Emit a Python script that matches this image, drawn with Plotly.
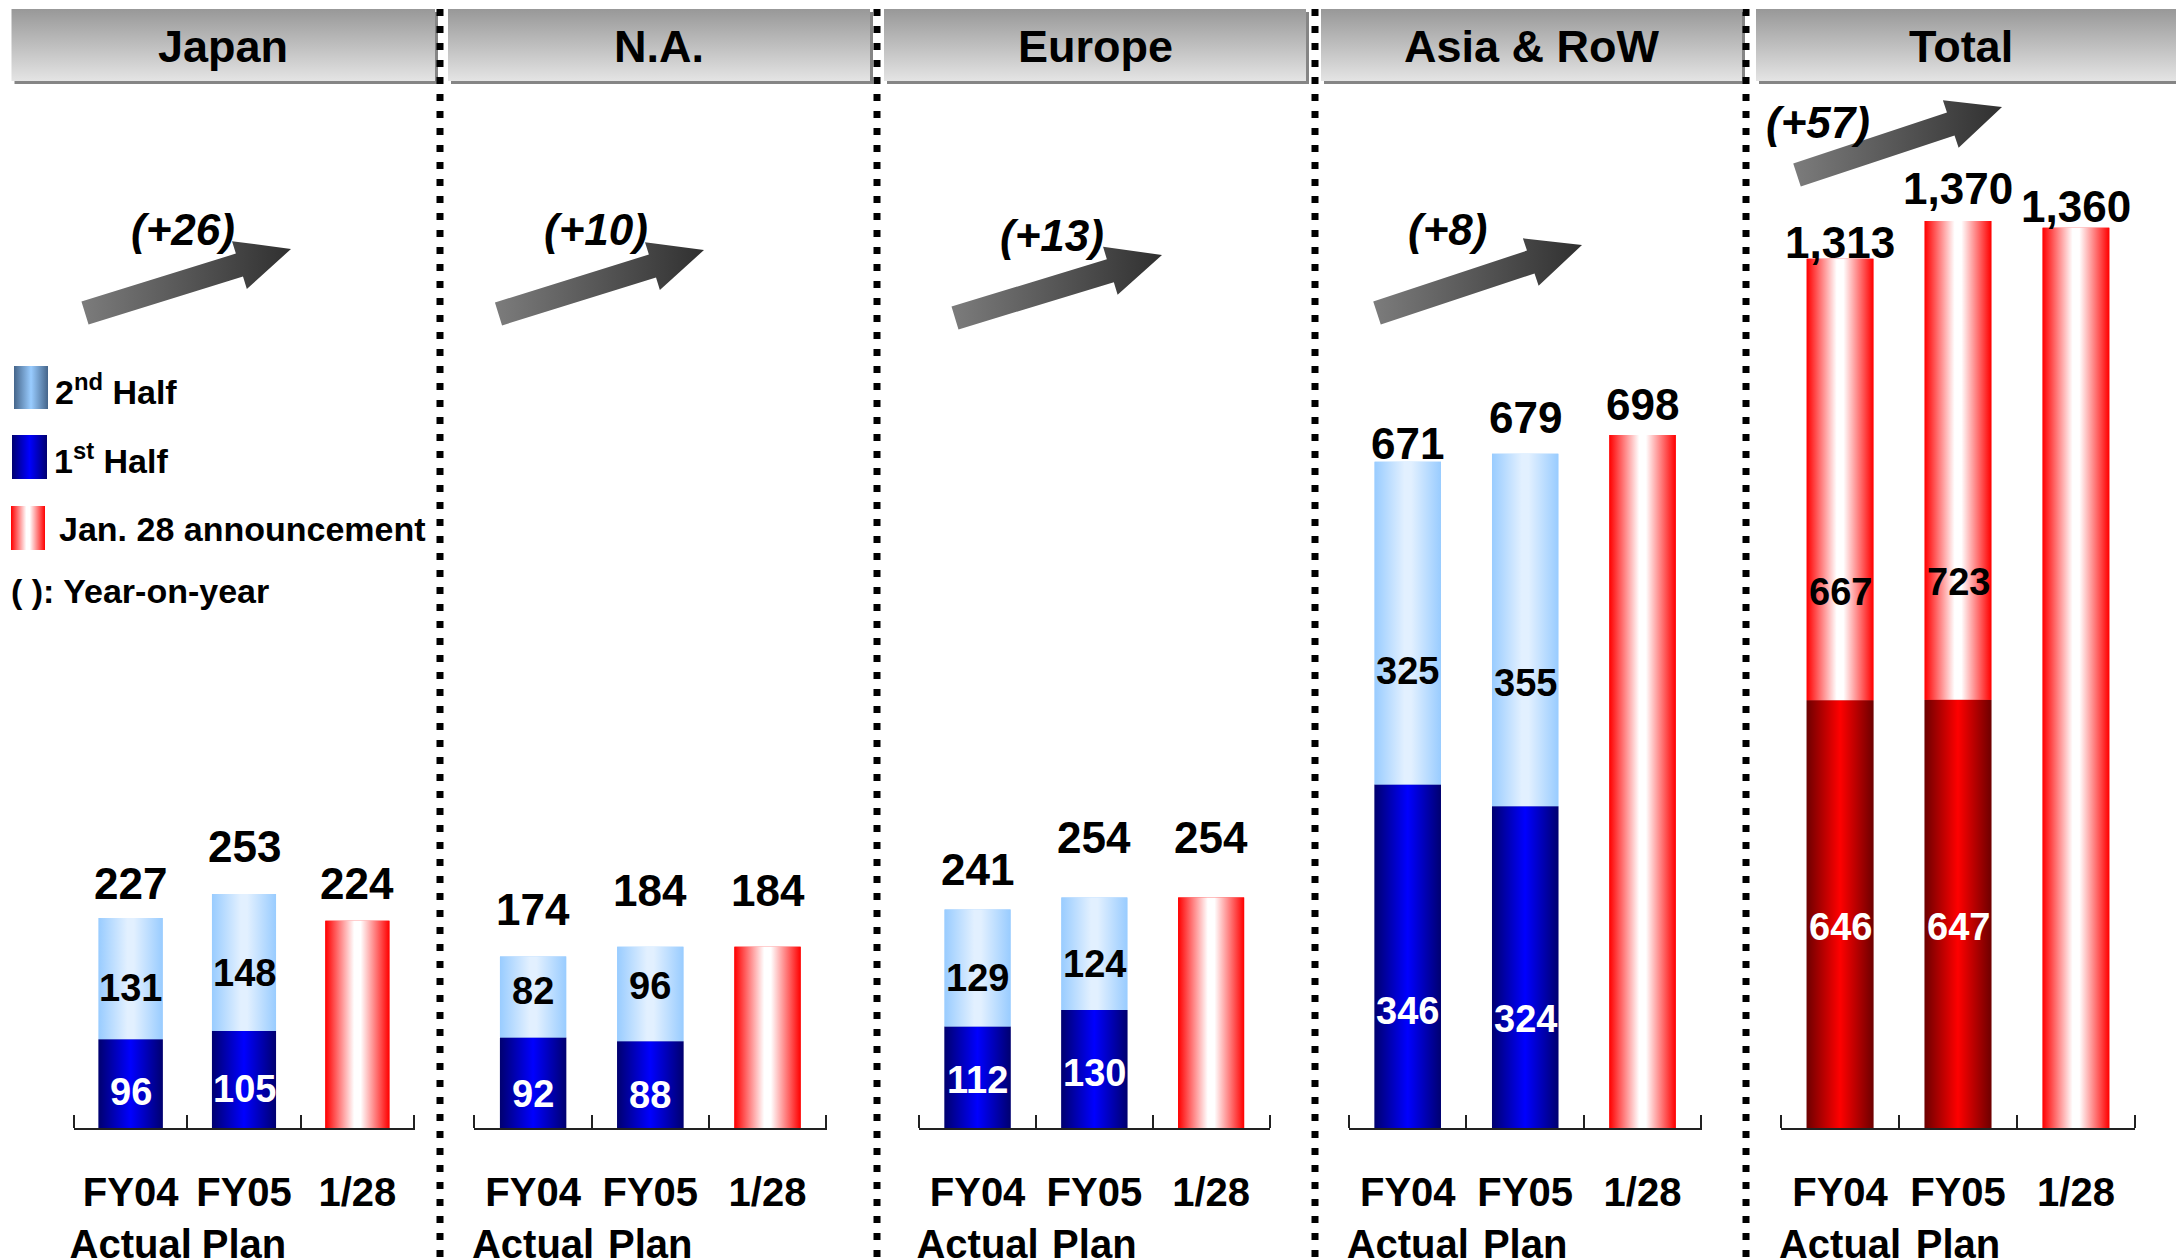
import math
import plotly.graph_objects as go

# ---------------- data ----------------
regions = ["Japan", "N.A.", "Europe", "Asia & RoW", "Total"]
categories = ["FY04<br>Actual", "FY05<br>Plan", "1/28"]
first_half = [[96, 105], [92, 88], [112, 130], [346, 324], [646, 647]]
second_half = [[131, 148], [82, 96], [129, 124], [325, 355], [667, 723]]
jan28_forecast = [224, 184, 254, 698, 1360]
yoy_change = ["(+26)", "(+10)", "(+13)", "(+8)", "(+57)"]

# ---------------- layout / style ----------------
W, H = 2176, 1258
BASE_PX = 1128                      # pixel row of the category axes
FONT = "Arial, 'Liberation Sans', sans-serif"
axis_px = [(73.5, 414.5), (474, 826.6), (918.7, 1270), (1348.6, 1701.7), (1780.6, 2135.4)]
px_per_unit = [0.925, 0.985, 0.907, 0.993, 0.662]
header_px = [(11.5, 435), (448, 870), (884, 1306), (1321, 1742), (1756, 2200)]
HEADER_TOP, HEADER_BOTTOM = 9, 81
separators_px = [440, 877, 1315, 1746]
arrow_px = [((85, 313), (291, 249)), ((498.5, 314), (704, 250)), ((955, 318), (1162, 255)),
            ((1377, 313), (1582, 245)), ((1797, 175), (2002, 107))]
yoy_label_px = [(182.5, 229), (596, 229), (1052, 235), (1447, 229), (1818, 122)]
total_lift = [[35, 47, 37], [47, 56, 56], [40, 60, 60], [18, 36, 30], [16, 33, 21]]
seg_frac = [(0.40, 0.42), (0.38, 0.58), (0.47, 0.41), (0.34, 0.35), (0.47, 0.245)]
BAR_W = 0.565
EPS = 0.004

NAVY = [[0, "#000070"], [0.5, "#0000ff"], [1, "#000070"]]
SKY = [[0, "#99ccff"], [0.45, "#e2f0ff"], [0.55, "#e2f0ff"], [1, "#99ccff"]]
REDWHITE = [[0, "#ff0000"], [0.45, "#ffffff"], [0.55, "#ffffff"], [1, "#ff0000"]]
MAROON = [[0, "#6e0000"], [0.5, "#ff0000"], [1, "#6e0000"]]
STEEL = [[0, "#45658a"], [0.5, "#99ccff"], [1, "#45658a"]]
ARROW = [[0, "#7c7c7c"], [1, "#303030"]]
HEADER = [[0, "#e4e4e4"], [1, "#989898"]]

fig = go.Figure()
annotations = []


def axis_ids(i):
    return ("x" if i == 0 else f"x{i + 1}"), ("y" if i == 0 else f"y{i + 1}")


def gradient_rect(x0, x1, y0, y1, scale, xa, ya, kind="horizontal"):
    fig.add_trace(go.Scatter(
        x=[x0, x1, x1, x0, x0], y=[y0, y0, y1, y1, y0],
        mode="lines", line=dict(width=0), fill="toself",
        fillgradient=dict(type=kind, colorscale=scale),
        hoverinfo="skip", showlegend=False, xaxis=xa, yaxis=ya))


def label(text, x, y, xa, ya, size, color="black", xanchor="center", yanchor="middle", yshift=0):
    annotations.append(dict(
        text=text, x=x, y=y, xref=xa, yref=ya, showarrow=False,
        xanchor=xanchor, yanchor=yanchor, yshift=yshift,
        font=dict(family=FONT, size=size, color=color)))


# ---------------- panels ----------------
layout_axes = {}
for i, region in enumerate(regions):
    xa, ya = axis_ids(i)
    lo_scale, hi_scale = (MAROON, REDWHITE) if region == "Total" else (NAVY, SKY)
    lo_edge = lo_scale[0][1]
    hi_edge = hi_scale[0][1]
    fh, sh, fc = first_half[i], second_half[i], jan28_forecast[i]
    tops = [fh[0] + sh[0], fh[1] + sh[1], fc]

    # stacked halves and the forecast bar
    fig.add_trace(go.Bar(x=[0, 1], y=fh, base=[0, 0], width=BAR_W, marker=dict(color=lo_edge, line_width=0),
                         xaxis=xa, yaxis=ya, showlegend=False, hoverinfo="skip"))
    fig.add_trace(go.Bar(x=[0, 1], y=sh, base=fh, width=BAR_W, marker=dict(color=hi_edge, line_width=0),
                         xaxis=xa, yaxis=ya, showlegend=False, hoverinfo="skip"))
    fig.add_trace(go.Bar(x=[2], y=[fc], base=[0], width=BAR_W, marker=dict(color="#ff0000", line_width=0),
                         xaxis=xa, yaxis=ya, showlegend=False, hoverinfo="skip"))

    # gradient shading over each bar segment
    hw = BAR_W / 2
    for k in range(2):
        gradient_rect(k - hw, k + hw, 0, fh[k], lo_scale, xa, ya)
        gradient_rect(k - hw, k + hw, fh[k], fh[k] + sh[k], hi_scale, xa, ya)
    gradient_rect(2 - hw, 2 + hw, 0, fc, REDWHITE, xa, ya)

    # value labels
    for k in range(3):
        label(f"<b>{tops[k]:,}</b>", k, tops[k], xa, ya, 44, yshift=total_lift[i][k])
    f_lo, f_hi = seg_frac[i]
    for k in range(2):
        label(f"<b>{fh[k]}</b>", k, fh[k] * f_lo, xa, ya, 38, color="white")
        label(f"<b>{sh[k]}</b>", k, fh[k] + sh[k] * f_hi, xa, ya, 38)

    px0, px1 = axis_px[i]
    layout_axes[("xaxis" if i == 0 else f"xaxis{i + 1}")] = dict(
        domain=[px0 / W, px1 / W], range=[-0.5 - EPS, 2.5 + EPS], anchor=ya, automargin=False,
        tickmode="array", tickvals=[0, 1, 2],
        ticktext=["<br>".join(f"<b>{p}</b>" for p in c.split("<br>")) for c in categories],
        ticks="", showgrid=False, zeroline=False, showline=True, linecolor="#222", linewidth=2,
        tickfont=dict(family=FONT, size=40, color="black"), ticklabelstandoff=28,
        minor=dict(tickmode="array", tickvals=[-0.5, 0.5, 1.5, 2.5], ticks="inside",
                   ticklen=13, tickwidth=2, tickcolor="#222", showgrid=False),
        fixedrange=True)
    layout_axes[("yaxis" if i == 0 else f"yaxis{i + 1}")] = dict(
        domain=[1 - BASE_PX / H, 1], range=[0, BASE_PX / px_per_unit[i]], anchor=xa,
        automargin=False, visible=False, fixedrange=True)

# ---------------- decorations on a full-page pixel frame ----------------
OX, OY = "x6", "y6"
layout_axes["xaxis6"] = dict(domain=[0, 1], range=[0, W], anchor=OY, visible=False,
                             automargin=False, fixedrange=True)
layout_axes["yaxis6"] = dict(domain=[0, 1], range=[H, 0], anchor=OX, visible=False,
                             automargin=False, fixedrange=True)

# region headers with drop shadow
for (hx0, hx1), region in zip(header_px, regions):
    fig.add_trace(go.Scatter(x=[hx0 + 3, hx1 + 3, hx1 + 3, hx0 + 3, hx0 + 3],
                             y=[HEADER_TOP + 3] * 2 + [HEADER_BOTTOM + 3] * 2 + [HEADER_TOP + 3],
                             mode="lines", line=dict(width=0), fill="toself", fillcolor="#858585",
                             hoverinfo="skip", showlegend=False, xaxis=OX, yaxis=OY))
    gradient_rect(hx0, hx1, HEADER_TOP, HEADER_BOTTOM, HEADER, OX, OY, kind="vertical")
    label(f"<b>{region}</b>", (hx0 + min(hx1, W - 11)) / 2, (HEADER_TOP + HEADER_BOTTOM) / 2 + 1,
          OX, OY, 45)


# year-on-year arrows
def arrow_polygon(tail, tip, shaft=12, head=25, head_len=54):
    (tx, ty), (px, py) = tail, tip
    d = math.hypot(px - tx, py - ty)
    ux, uy = (px - tx) / d, (py - ty) / d
    nx, ny = -uy, ux
    bx, by = px - ux * head_len, py - uy * head_len
    pts = [(tx + nx * shaft, ty + ny * shaft), (bx + nx * shaft, by + ny * shaft),
           (bx + nx * head, by + ny * head), (px, py),
           (bx - nx * head, by - ny * head), (bx - nx * shaft, by - ny * shaft),
           (tx - nx * shaft, ty - ny * shaft)]
    pts.append(pts[0])
    return [p[0] for p in pts], [p[1] for p in pts]


for (tail, tip), txt, (lx, ly) in zip(arrow_px, yoy_change, yoy_label_px):
    ax_, ay_ = arrow_polygon(tail, tip)
    fig.add_trace(go.Scatter(x=ax_, y=ay_, mode="lines", line=dict(width=0), fill="toself",
                             fillgradient=dict(type="horizontal", colorscale=ARROW),
                             hoverinfo="skip", showlegend=False, xaxis=OX, yaxis=OY))
    label(f"<b><i>{txt}</i></b>", lx, ly, OX, OY, 44)

# legend
legend_items = [("2<sup>nd</sup> Half", STEEL, (14, 48, 366, 409), 53, 389),
                ("1<sup>st</sup> Half", NAVY, (12, 47, 435, 479), 52, 458),
                ("Jan. 28 announcement", REDWHITE, (11, 45, 506, 550), 57, 529)]
for text, scale, (sx0, sx1, sy0, sy1), tx, ty in legend_items:
    gradient_rect(sx0, sx1, sy0, sy1, scale, OX, OY)
    label(f"<b>{text}</b>", tx, ty, OX, OY, 34, xanchor="left")
label("<b>( ): Year-on-year</b>", 9, 591, OX, OY, 34, xanchor="left")

# dotted panel separators
shapes = [dict(type="line", xref="paper", yref="paper", x0=sx / W, x1=sx / W, y0=1 - 9 / H, y1=0,
               line=dict(color="black", width=7, dash="7px,10px"), layer="above")
          for sx in separators_px]

fig.update_layout(
    width=W, height=H, margin=dict(l=0, r=0, t=0, b=0, autoexpand=False),
    paper_bgcolor="white", plot_bgcolor="rgba(0,0,0,0)",
    barmode="overlay", showlegend=False,
    annotations=annotations, shapes=shapes,
    font=dict(family=FONT, color="black"),
    **layout_axes)

fig.write_html("out.html", config={"displayModeBar": False})
